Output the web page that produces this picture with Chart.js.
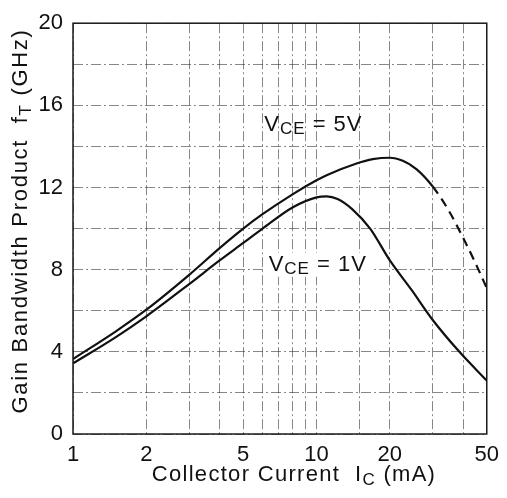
<!DOCTYPE html>
<html>
<head>
<meta charset="utf-8">
<script src="https://cdn.jsdelivr.net/npm/chart.js@4/dist/chart.umd.min.js"></script>
<style>
  html, body { margin: 0; padding: 0; background: #fff; }
  #wrap { position: relative; width: 507px; height: 498px; }
</style>
</head>
<body>
<div id="wrap"><canvas id="chart" width="507" height="498"></canvas></div>
<script>
"use strict";

// Collector current (mA) and fT (GHz)
const icHigh = [1, 1.5, 2, 3, 4, 5, 6, 8, 10, 11, 14.6, 17, 20, 22.6, 25.7, 30, 35, 40, 45, 50];
const ftHigh = [3.65, 5.0, 6.05, 7.75, 9.05, 10.0, 10.7, 11.68, 12.35, 12.6, 13.17, 13.38, 13.45, 13.3, 12.9, 12.05, 10.85, 9.55, 8.3, 7.1];
const icLow = [1, 1.5, 2, 3, 4, 5, 6, 8, 10, 11, 12.2, 14, 16.6, 20, 24.6, 30, 38.6, 50];
const ftLow = [3.44, 4.72, 5.73, 7.3, 8.45, 9.3, 10.0, 11.04, 11.52, 11.57, 11.44, 10.95, 10.0, 8.45, 7.0, 5.55, 4.0, 2.6];
const dashedFrom = 30; // upper curve is extrapolated (dashed) above this current

const xLabels = [1, 2, 5, 10, 20, 50];
const yLabels = [0, 4, 8, 12, 16, 20];

// text pieces: [text, isSubscript]
const xTitle = [["Collector Current  I", false], ["C", true], [" (mA)", false]];
const yTitle = [["Gain Bandwidth Product  f", false], ["T", true], [" (GHz)", false]];
const label5V = [["V", false], ["CE", true], [" = 5V", false]];
const label1V = [["V", false], ["CE", true], [" = 1V", false]];

const FONT = "'Liberation Sans', Arial, Helvetica, sans-serif";
const INK = "#111";
const GRID = "rgba(40,40,40,0.7)";

function pts(xs, ys) { return xs.map((x, i) => ({ x, y: ys[i] })); }

function runsWidth(ctx, runs, size, subSize, sp) {
  let w = 0;
  ctx.letterSpacing = sp + "px";
  runs.forEach(([t, sub]) => {
    ctx.font = `${sub ? subSize : size}px ${FONT}`;
    w += ctx.measureText(t).width;
  });
  return w;
}

// draw text pieces starting at x on baseline y, subscripts dropped a little
function drawRuns(ctx, runs, x, y, size, subSize, drop, sp) {
  ctx.textBaseline = "alphabetic";
  ctx.textAlign = "left";
  ctx.letterSpacing = sp + "px";
  runs.forEach(([t, sub]) => {
    ctx.font = `${sub ? subSize : size}px ${FONT}`;
    ctx.fillText(t, x, sub ? y + drop : y);
    x += ctx.measureText(t).width;
  });
}

const textPlugin = {
  id: "texts",
  beforeDatasetsDraw(chart) {
    const { ctx, chartArea: a } = chart;
    ctx.save();
    // frame
    ctx.strokeStyle = "#1a1a1a";
    ctx.lineWidth = 1.5;
    ctx.strokeRect(a.left, a.top, a.right - a.left, a.bottom - a.top);

    // curve labels, 1V one sits on a white patch over the grid
    ctx.fillStyle = INK;
    const xs = chart.scales.x, ys = chart.scales.y;
    drawRuns(ctx, label5V, xs.getPixelForValue(6.1), ys.getPixelForValue(14.75), 22, 17, 3, 1);
    const w1 = runsWidth(ctx, label1V, 22, 17, 1);
    const x1 = xs.getPixelForValue(6.36), y1 = ys.getPixelForValue(7.95);
    ctx.fillStyle = "#fff";
    ctx.fillRect(x1 - 5, y1 - 18, w1 + 10, 24);
    ctx.fillStyle = INK;
    drawRuns(ctx, label1V, x1, y1, 22, 17, 3, 1);
    ctx.restore();
  },
  afterDraw(chart) {
    const { ctx } = chart;
    ctx.save();
    ctx.fillStyle = INK;
    // x title
    const wx = runsWidth(ctx, xTitle, 22, 17, 1.3);
    drawRuns(ctx, xTitle, 294 - wx / 2, 481, 22, 17, 4, 1.3);
    // y title, rotated
    const wy = runsWidth(ctx, yTitle, 22, 17, 1.7);
    ctx.translate(27, 221);
    ctx.rotate(-Math.PI / 2);
    drawRuns(ctx, yTitle, -wy / 2, 0, 22, 17, 4, 1.7);
    ctx.restore();
  }
};

new Chart(document.getElementById("chart"), {
  type: "line",
  data: {
    datasets: [
      {
        label: "VCE = 5V",
        data: pts(icHigh, ftHigh),
        borderColor: INK,
        borderWidth: 2.2,
        pointRadius: 0,
        cubicInterpolationMode: "monotone",
        segment: {
          borderDash: c => c.p0.parsed.x >= dashedFrom ? [9, 6] : undefined
        }
      },
      {
        label: "VCE = 1V",
        data: pts(icLow, ftLow),
        borderColor: INK,
        borderWidth: 2.2,
        pointRadius: 0,
        cubicInterpolationMode: "monotone"
      }
    ]
  },
  options: {
    responsive: false,
    animation: false,
    events: [],
    layout: { padding: { top: 19, right: 16, bottom: 0, left: 0 } },
    plugins: { legend: { display: false }, tooltip: { enabled: false } },
    scales: {
      x: {
        type: "logarithmic",
        min: 1, max: 50,
        grid: { color: GRID, lineWidth: 0.8, drawTicks: false },
        border: { display: false, dash: [10, 3, 2, 3] },
        ticks: {
          autoSkip: false, maxRotation: 0, padding: 8, color: INK,
          font: { family: FONT, size: 22 },
          callback: v => xLabels.includes(v) ? String(v) : ""
        },
        afterFit: s => { s.height = 64; }
      },
      y: {
        min: 0, max: 20,
        grid: { color: GRID, lineWidth: 0.8, drawTicks: false },
        border: { display: false, dash: [10, 3, 2, 3] },
        ticks: {
          stepSize: 2, padding: 10, color: INK,
          font: { family: FONT, size: 22 },
          callback: v => yLabels.includes(v) ? String(v) : ""
        },
        afterFit: s => { s.width = 73; }
      }
    }
  },
  plugins: [textPlugin]
});
</script>
</body>
</html>
